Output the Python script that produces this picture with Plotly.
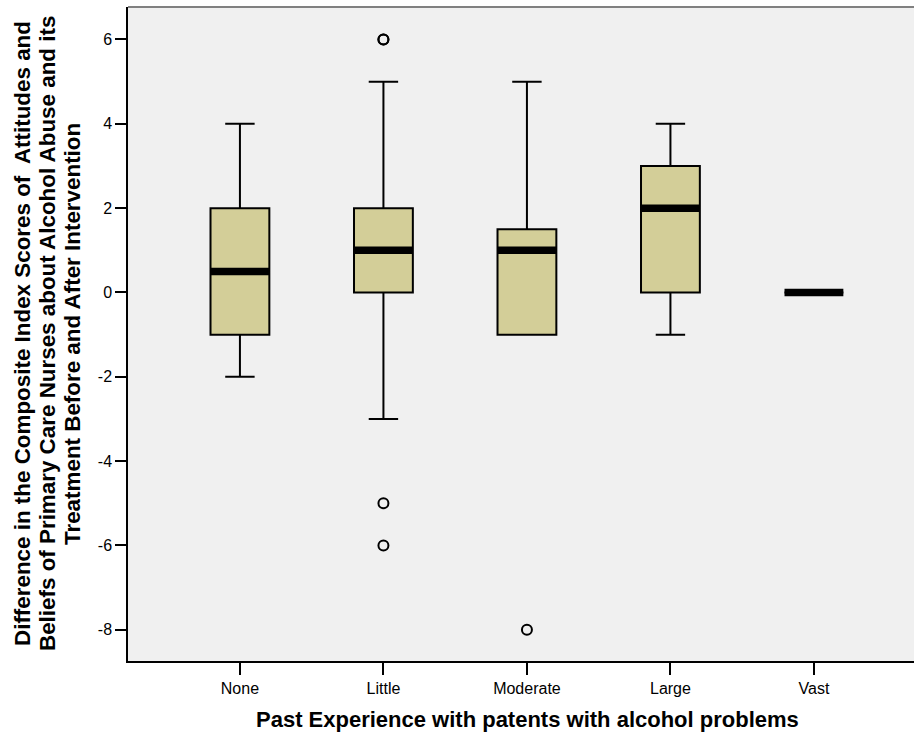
import plotly.graph_objects as go

# ---- data ----
categories = ["None", "Little", "Moderate", "Large", "Vast"]
q1 = [-1, 0, -1, 0, 0]
median = [0.5, 1, 1, 2, 0]
q3 = [2, 2, 1.5, 3, 0]
lower_whisker = [-2, -3, -1, -1, 0]
upper_whisker = [4, 5, 5, 4, 0]
outlier_cat = ["Little", "Little", "Little", "Little", "Moderate"]
outlier_val = [6, 6, -5, -6, -8]
y_ticks = [6, 4, 2, 0, -2, -4, -6, -8]

x_title = "Past Experience with patents with alcohol problems"
y_title_lines = [
    "Difference in the Composite Index Scores of  Attitudes and",
    "Beliefs of Primary Care Nurses about Alcohol Abuse and its",
    "Treatment Before and After Intervention",
]

# ---- style ----
FONT = "Liberation Sans, Arial, sans-serif"
BOX_W = 0.41
W = 922          # figure is a little wider than the window so the right frame is cut off
PLOT_W = W - 128
pos = list(range(len(categories)))
idx = {c: i for i, c in enumerate(categories)}

fig = go.Figure()
fig.add_trace(go.Box(
    x=pos, q1=q1, median=median, q3=q3,
    lowerfence=lower_whisker, upperfence=upper_whisker,
    boxpoints=False, width=BOX_W, whiskerwidth=0.5,
    fillcolor="#D3CE98", line=dict(color="black", width=2),
    hoverinfo="skip", showlegend=False,
))

# thick median bars
mx, my = [], []
for i, m in zip(pos, median):
    mx += [i - BOX_W / 2, i + BOX_W / 2, None]
    my += [m, m, None]
fig.add_trace(go.Scatter(x=mx, y=my, mode="lines",
                         line=dict(color="black", width=7.5),
                         hoverinfo="skip", showlegend=False))

# outliers
fig.add_trace(go.Scatter(
    x=[idx[c] for c in outlier_cat], y=outlier_val, mode="markers",
    marker=dict(symbol="circle-open", size=10, color="black",
                line=dict(width=2, color="black")),
    hoverinfo="skip", showlegend=False))

fig.update_layout(
    width=W, height=736,
    margin=dict(l=128, r=0, t=7, b=75),
    paper_bgcolor="white", plot_bgcolor="#F0F0F0",
    font=dict(family=FONT, color="black", size=16),
    showlegend=False,
)
fig.update_xaxes(
    range=[-0.78, -0.78 + PLOT_W / 143.5], tickmode="array", tickvals=pos, ticktext=categories,
    showgrid=False, zeroline=False, showline=True, linecolor="black", linewidth=1.5,
    mirror=False,
    ticks="outside", ticklen=12, tickwidth=1.5, tickcolor="black",
    tickfont=dict(size=16, family=FONT),
)
fig.update_yaxes(
    range=[-8.74, 6.77], tickmode="array", tickvals=y_ticks,
    ticktext=[str(v) for v in y_ticks],
    showgrid=False, zeroline=False, showline=True, linecolor="black", linewidth=1.5,
    mirror=False,
    ticks="outside", ticklen=11, tickwidth=1.5, tickcolor="black",
    tickfont=dict(size=16, family=FONT),
)
# top frame line (gray)
fig.add_shape(type="line", xref="paper", yref="paper", x0=0, x1=1, y0=1, y1=1,
              line=dict(color="#808080", width=2))

fig.add_annotation(text=x_title, xref="paper", yref="paper",
                   x=(527 - 128) / PLOT_W, y=-0.0902, xanchor="center", yanchor="middle",
                   showarrow=False, font=dict(size=22, family=FONT, weight="bold"))
for px, line in zip([22, 47, 72], y_title_lines):
    fig.add_annotation(text=line, xref="paper", yref="paper",
                       x=(px - 128) / PLOT_W, y=0.5, xanchor="center", yanchor="middle",
                       textangle=-90, showarrow=False,
                       font=dict(size=22.4, family=FONT, weight="bold"))

fig.write_html("out.html", config={"displayModeBar": False},
               post_script="document.body.style.margin='0';"
                           "document.body.style.overflow='hidden';"
                           "document.documentElement.style.overflow='hidden';")
